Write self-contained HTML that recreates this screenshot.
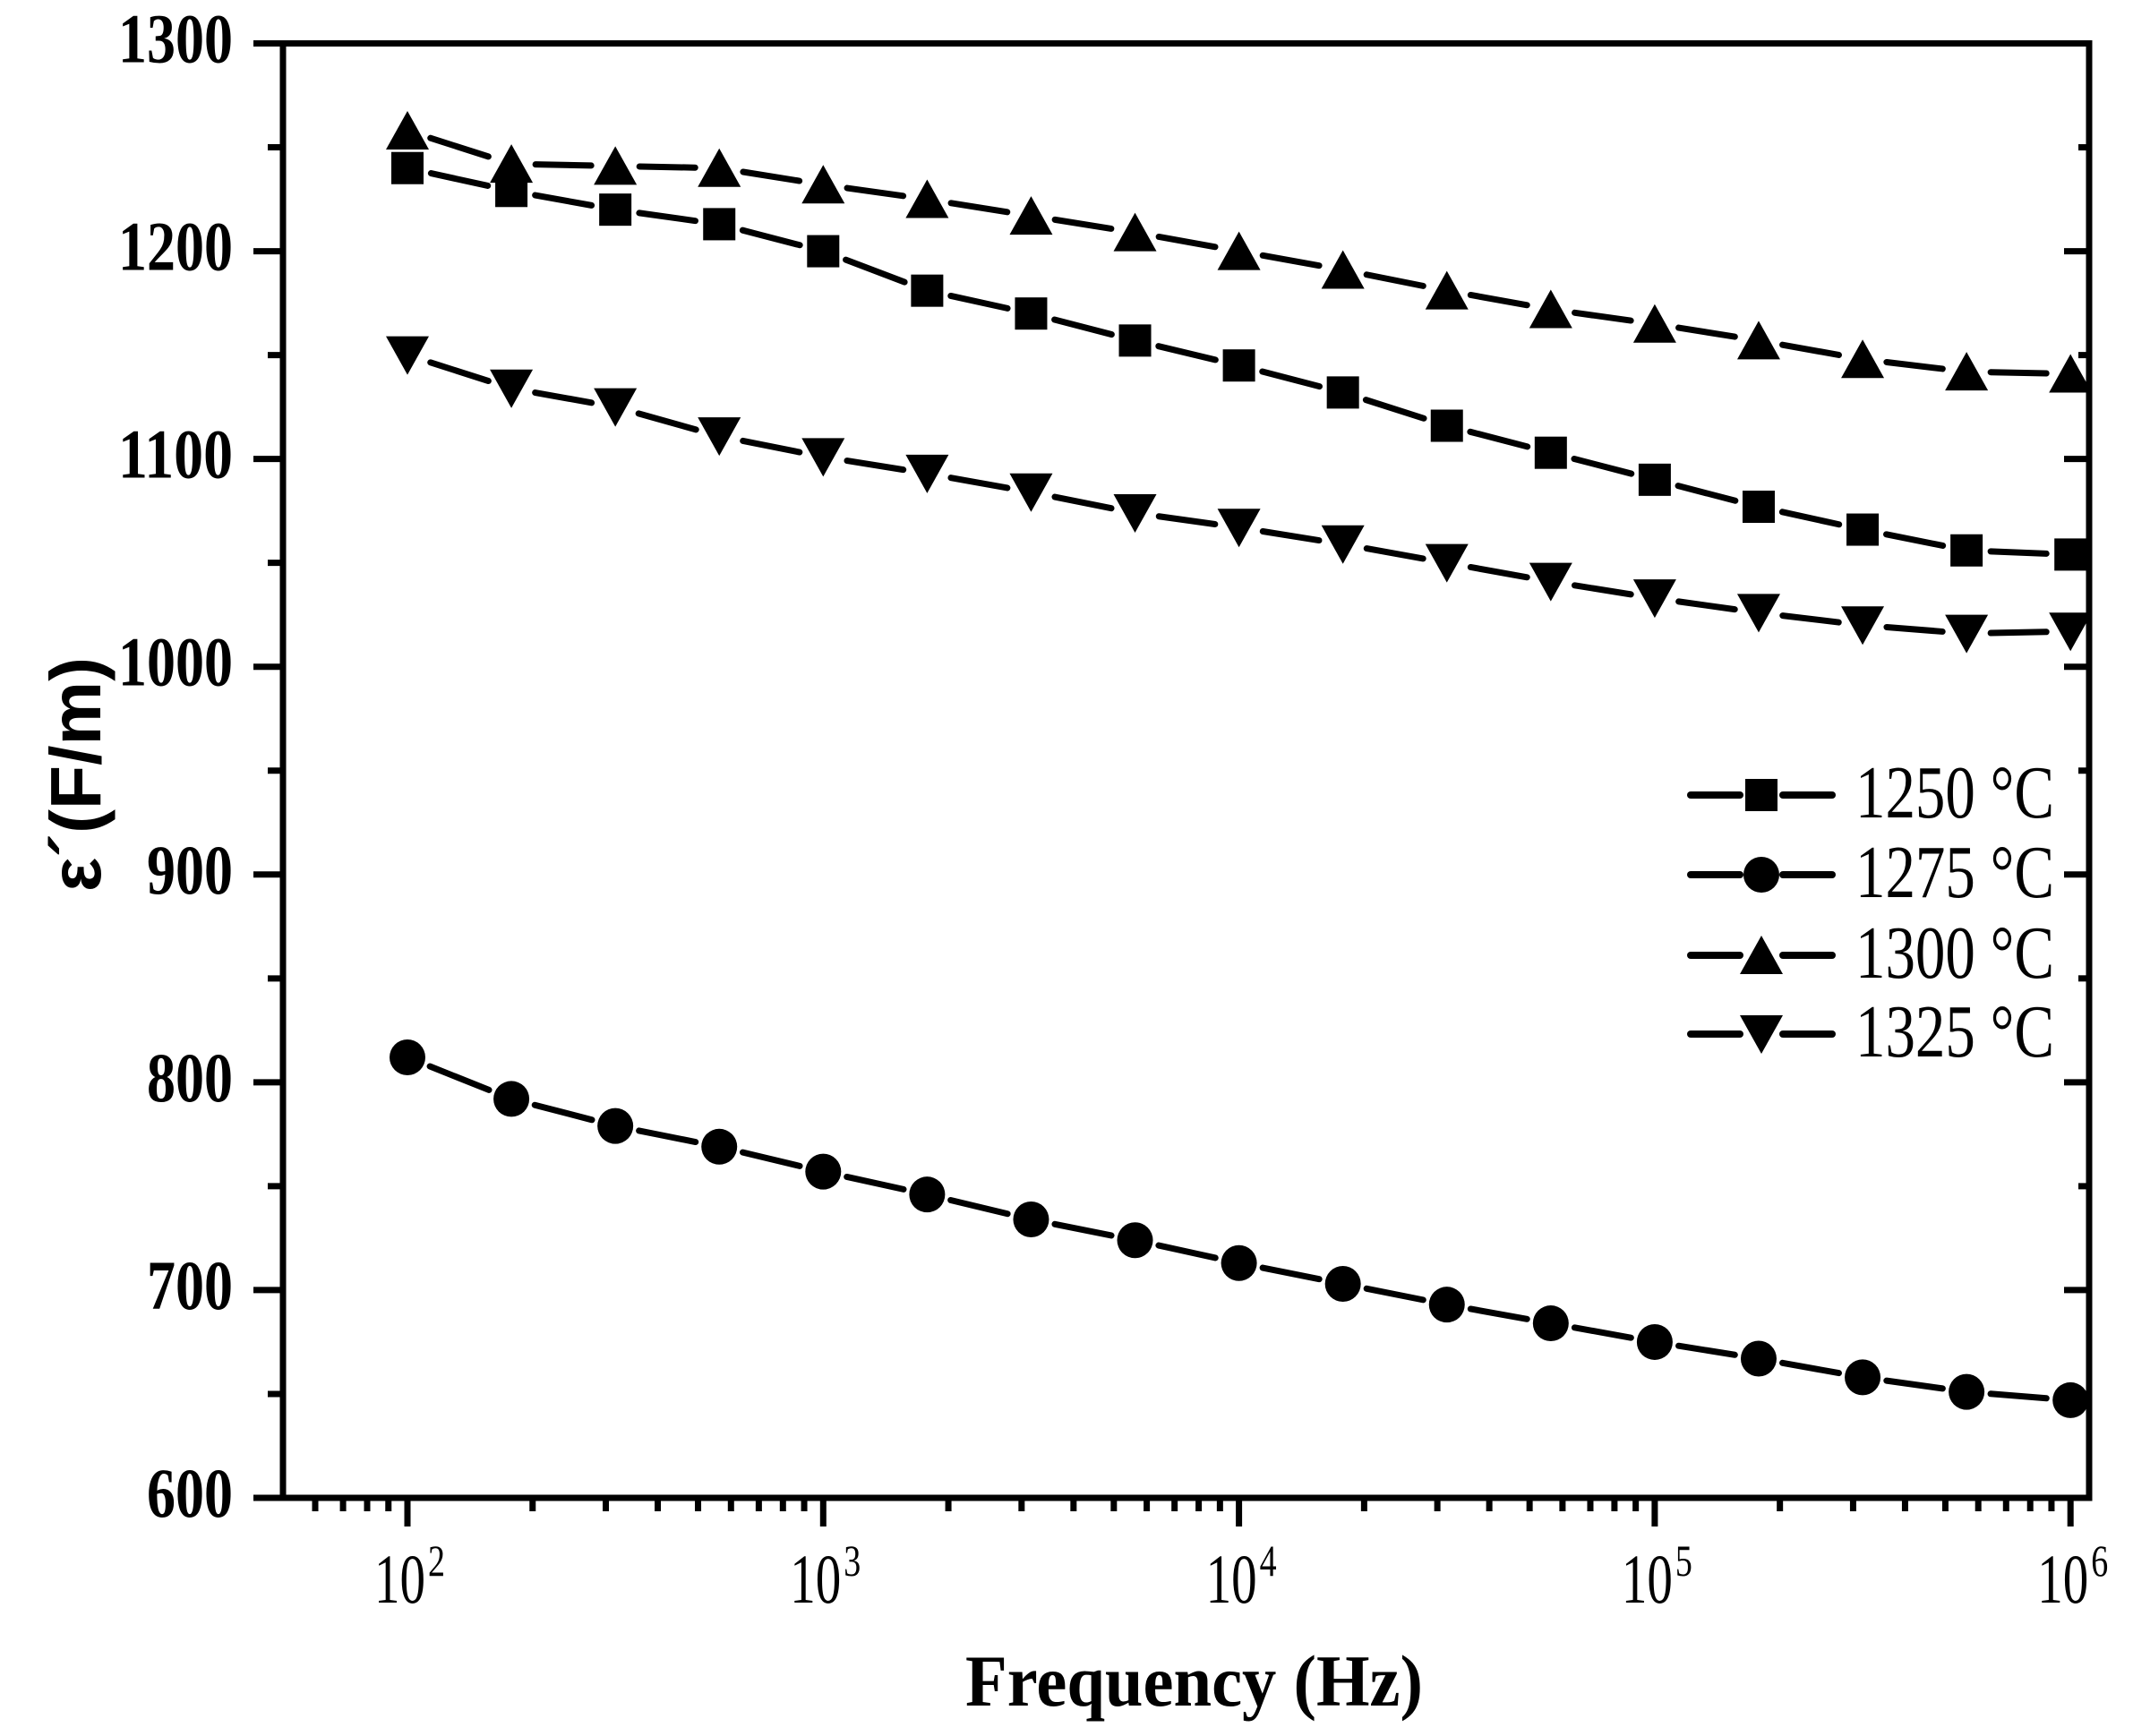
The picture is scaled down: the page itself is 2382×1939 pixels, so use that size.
<!DOCTYPE html>
<html><head><meta charset="utf-8"><style>
html,body{margin:0;padding:0;background:#fff;}
svg{display:block;}
text{font-family:"Liberation Serif",serif;fill:#000;}
</style></head><body>
<svg id="chart" width="2382" height="1939" viewBox="0 0 2382 1939" xmlns="http://www.w3.org/2000/svg">
<rect width="2382" height="1939" fill="#fff"/>
<g id="axes"></g>
<g id="series"></g>
<g id="legend"></g>
<text x="1078" y="1905" font-size="82" font-weight="bold" textLength="511" lengthAdjust="spacingAndGlyphs">Frequency (Hz)</text>
<text transform="translate(112,865) rotate(-90)" text-anchor="middle" font-size="80" font-weight="bold" style="font-family:'Liberation Sans',sans-serif" textLength="262" lengthAdjust="spacingAndGlyphs">ε´(F/m)</text>
</svg>
<script>
const freqExp = [2,2.25,2.5,2.75,3,3.25,3.5,3.75,4,4.25,4.5,4.75,5,5.25,5.5,5.75,6];
const s1250 = [1240,1229,1220,1213,1200,1181,1170,1157,1145,1132,1116,1103,1090,1077,1066,1056,1054];
const s1275 = [812,792,779,769,757,746,734,724,713,703,693,684,675,667,658,651,647];
const s1300 = [1258,1242,1241,1240,1232,1225,1217,1209,1200,1191,1181,1172,1165,1157,1148,1142,1141];
const s1325 = [1150,1134,1125,1111,1101,1093,1084,1074,1067,1059,1050,1041,1033,1026,1020,1016,1017];
const seriesLabels = ["1250 °C","1275 °C","1300 °C","1325 °C"];
const yTicks = [600,700,800,900,1000,1100,1200,1300];
const xTickExps = [2,3,4,5,6];

const NS="http://www.w3.org/2000/svg";
const L=316,R=2333,T=48.5,B=1673;
function xs(e){return 455+(e-2)*464.3;}
function ys(v){return T+(1300-v)*(B-T)/700;}
function mk(tag,attrs,parent){const el=document.createElementNS(NS,tag);for(const k in attrs)el.setAttribute(k,attrs[k]);parent.appendChild(el);return el;}
const axes=document.getElementById('axes');
let fr=mk('rect',{x:L,y:T,width:R-L,height:B-T,fill:'none',stroke:'#000','stroke-width':7},axes);


for(let v=600;v<=1300;v+=50){
  const y=ys(v);const major=v%100===0;
  let t=mk('line',{x1:L-(major?33:17),x2:L,y1:y,y2:y,stroke:'#000','stroke-width':7},axes);
  
  
  let t2=mk('line',{x1:R,x2:R-(major?28:12),y1:y,y2:y,stroke:'#000','stroke-width':7},axes);
  
  
}
yTicks.forEach(v=>{
  const s=String(v);
  let tx=mk('text',{x:260,y:ys(v)+21,'text-anchor':'end','font-size':78,'font-weight':'bold',textLength:s.length*32,lengthAdjust:'spacingAndGlyphs'},axes);
  tx.textContent=s;
  
  
});
for(let d=1;d<=6;d++){
  for(let m=1;m<=9;m++){
    const e=d+Math.log10(m);const x=xs(e);
    if(x<L+2||x>R-2)continue;
    const major=m===1;
    let t=mk('line',{x1:x,x2:x,y1:B,y2:B+(major?32:15),stroke:'#000','stroke-width':7},axes);
    
    
  }
}
xTickExps.forEach(e=>{
  const x=xs(e);
  let tx=mk('text',{x:x-37,y:1790,'font-size':78,textLength:57,lengthAdjust:'spacingAndGlyphs'},axes);
  tx.textContent='10';
  
  
  let sp=mk('text',{x:x+23,y:1760,'font-size':50,textLength:19,lengthAdjust:'spacingAndGlyphs'},axes);
  sp.textContent=e;
  
  
});
function marker(type,cx,cy,parent){
  let el;
  if(type==='square')el=mk('rect',{x:cx-18,y:cy-18,width:36,height:36,fill:'#000'},parent);
  else if(type==='circle')el=mk('circle',{cx:cx,cy:cy,r:20,fill:'#000'},parent);
  else if(type==='up')el=mk('polygon',{points:`${cx-24},${cy+21} ${cx+24},${cy+21} ${cx},${cy-22}`,fill:'#000'},parent);
  else el=mk('polygon',{points:`${cx-24},${cy-21} ${cx+24},${cy-21} ${cx},${cy+22}`,fill:'#000'},parent);
  return el;
}
function seg(x1,y1,x2,y2,gap,parent){
  const dx=x2-x1,dy=y2-y1,len=Math.hypot(dx,dy);
  if(len<2*gap)return null;
  const ux=dx/len,uy=dy/len;
  return mk('line',{x1:x1+ux*gap,y1:y1+uy*gap,x2:x2-ux*gap,y2:y2-uy*gap,stroke:'#000','stroke-width':7,'stroke-linecap':'round'},parent);
}
const sg=document.getElementById('series');
const all=[[s1250,'square'],[s1275,'circle'],[s1300,'up'],[s1325,'down']];
const names=['series-1250','series-1275','series-1300','series-1325'];
all.forEach(([data,type],i)=>{
  const g=mk('g',{},sg);
  
  
  for(let j=0;j<data.length-1;j++){
    const l=seg(xs(freqExp[j]),ys(data[j]),xs(freqExp[j+1]),ys(data[j+1]),27,g);
    if(l){
    }
  }
  data.forEach((v,j)=>{
    const m=marker(type,xs(freqExp[j]),ys(v),g);
    
    
  });
});
const lg=document.getElementById('legend');
const legY=[888,977,1067,1155];
all.forEach(([d,type],i)=>{
  const g=mk('g',{},lg);
  
  
  const y=legY[i];
  mk('line',{x1:1888,x2:1943,y1:y,y2:y,stroke:'#000','stroke-width':8,'stroke-linecap':'round'},g);
  mk('line',{x1:1991,x2:2046,y1:y,y2:y,stroke:'#000','stroke-width':8,'stroke-linecap':'round'},g);
  marker(type,1967,y,g);
  const t=mk('text',{x:2072,y:y+25,'font-size':84,textLength:222,lengthAdjust:'spacingAndGlyphs'},g);
  t.textContent=seriesLabels[i];
  
  
});
</script>
</body></html>
